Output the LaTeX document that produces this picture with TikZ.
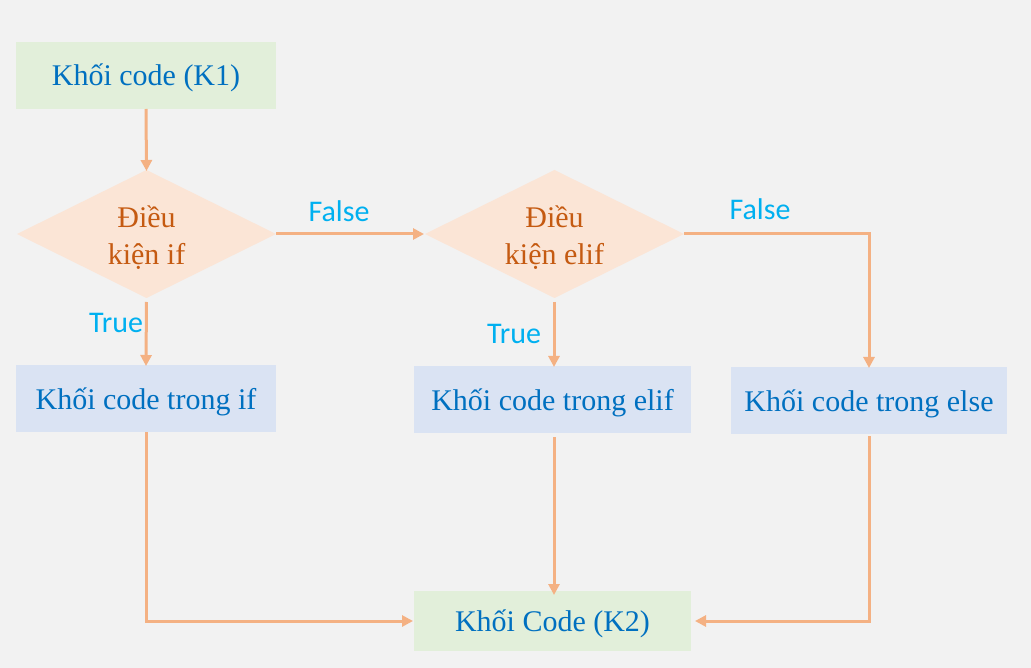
\documentclass[tikz,border=0pt]{standalone}
\usepackage{fontspec}
\setmainfont{Liberation Serif}
\newfontfamily\labfont{Carlito}
\usetikzlibrary{shapes.geometric,arrows.meta}
\definecolor{bgc}{HTML}{F2F2F2}
\definecolor{greenbox}{HTML}{E2EFDA}
\definecolor{bluebox}{HTML}{DAE3F3}
\definecolor{peach}{HTML}{FBE5D6}
\definecolor{dtext}{HTML}{C55A11}
\definecolor{btext}{HTML}{0070C0}
\definecolor{ltext}{HTML}{00B0F0}
\definecolor{arrc}{HTML}{F4B183}
\begin{document}
\begin{tikzpicture}[x=1pt,y=-1pt,
  box/.style={rectangle, inner sep=0pt, outer sep=0pt, text=btext,
    text height=21pt, text depth=0pt,
    font=\fontsize{30pt}{36pt}\selectfont},
  gbox/.style={box, fill=greenbox},
  bbox/.style={box, fill=bluebox},
  cond/.style={diamond, fill=peach, inner sep=0pt, outer sep=0pt, shape aspect=2,
    minimum width=259pt, minimum height=128pt, text=dtext, align=center,
    text height=66pt, text depth=4pt,
    font=\fontsize{30pt}{37pt}\selectfont},
  lab/.style={text=ltext, font=\labfont\fontsize{30pt}{34pt}\selectfont, inner sep=0pt},
  conn/.style={draw=arrc, line width=3pt, -{Triangle[length=11pt,width=11pt]}},
]
\fill[bgc] (0,0) rectangle (1031,668);
\useasboundingbox (0,0) rectangle (1031,668);

\node[gbox, minimum width=260pt, minimum height=67pt] (k1) at (146,75.5) {Khối code (K1)};
\node[cond] (d1) at (146.5,234) {Điều\\kiện if};
\node[cond] (d2) at (554.5,234) {Điều\\kiện elif};
\node[bbox, minimum width=260pt, minimum height=67pt] (bif) at (146,398.5) {Khối code trong if};
\node[bbox, minimum width=277pt, minimum height=67pt] (belif) at (552.5,399.5) {Khối code trong elif};
\node[bbox, minimum width=276pt, minimum height=67pt] (belse) at (869,400.5) {Khối code trong else};
\node[gbox, minimum width=277pt, minimum height=60pt] (k2) at (552.5,621) {Khối Code (K2)};

\node[lab] (f1) at (339,211) {False};
\node[lab] (f2) at (760,209) {False};
\node[lab] (t1) at (116,323) {True};
\node[lab] (t2) at (514,334) {True};

\coordinate (c1) at (869,234);
\coordinate (c2) at (146,621);
\coordinate (c3) at (869,621);

\draw[conn] (k1.south) -- ([yshift=-1pt]d1.north);
\draw[conn] (d1.east) -- ([xshift=-1pt]d2.west);
\draw[conn, shorten <=4pt] (d1.south) -- ([yshift=-1pt]bif.north);
\draw[conn, shorten <=4pt] ([xshift=-0.5pt]d2.south) -- ([xshift=1.5pt,yshift=-1pt]belif.north);
\draw[conn] (d2.east) -- (c1) -- ([yshift=-1pt]belse.north);
\draw[conn] (bif.south) -- (c2) -- ([xshift=-1pt]k2.west);
\draw[conn, shorten <=4pt] ([xshift=1.5pt]belif.south) -- ([xshift=1.5pt,yshift=-4pt]k2.north);
\draw[conn, shorten <=2pt] (belse.south) -- (c3) -- ([xshift=4pt]k2.east);
\end{tikzpicture}
\end{document}
